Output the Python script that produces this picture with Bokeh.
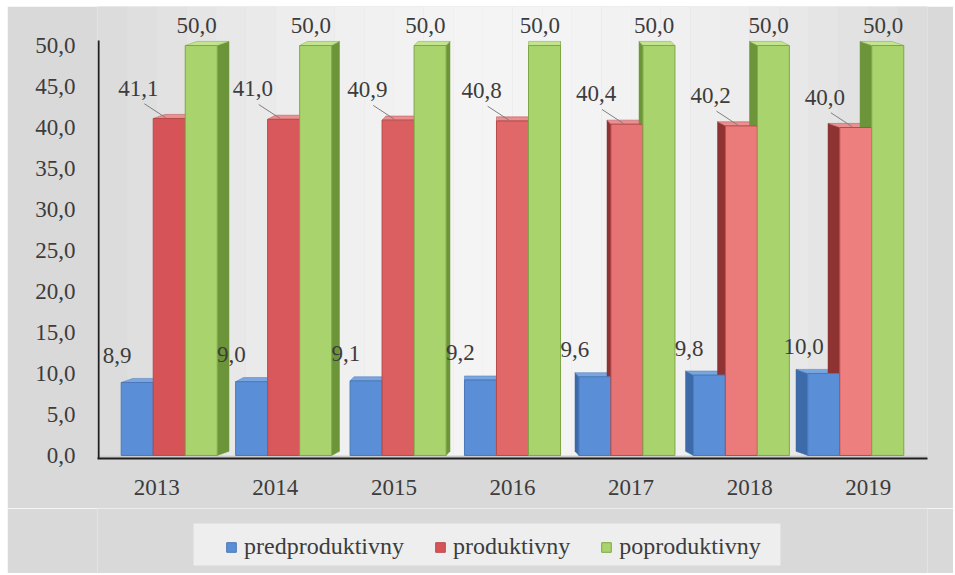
import numpy as np
from bokeh.plotting import figure
from bokeh.layouts import column
from bokeh.models import (Range1d, FixedTicker, Legend, LegendItem, BoxAnnotation,
                          ColumnDataSource, LabelSet, CustomJSTickFormatter)
from bokeh.embed import file_html
from bokeh.resources import INLINE

# ---------------- data ----------------
years = ["2013", "2014", "2015", "2016", "2017", "2018", "2019"]
predproduktivny = [8.9, 9.0, 9.1, 9.2, 9.6, 9.8, 10.0]
produktivny = [41.1, 41.0, 40.9, 40.8, 40.4, 40.2, 40.0]
poproduktivny = [50.0, 50.0, 50.0, 50.0, 50.0, 50.0, 50.0]
series_names = ["predproduktivny", "produktivny", "poproduktivny"]
y_ticks = [0, 5, 10, 15, 20, 25, 30, 35, 40, 45, 50]

# ---------------- style ----------------
FONT = "Liberation Serif"
TXT = "#3c3c3c"
FS = "23px"
BORDER = "#d9d9d9"
front_cols = [
    ["#5a8ed6"] * 7,
    ["#d65458", "#d8585b", "#db5e60", "#e06868", "#e77474", "#eb7a7a", "#ee7f7f"],
    ["#a9d36d"] * 7,
]
side_cols = ["#3d6aa8", "#8e3232", "#6c953a"]
top_cols = ["#7aa6e0", "#e99090", "#c3e48e"]
edge_cols = ["#4a78b8", "#b84a4a", "#7fa646"]
legend_cols = ["#5a8ed6", "#d65458", "#a9d36d"]

W = 946
ML, MR = 90, 26
Y0, Y1 = -0.37, 54.76
p = figure(width=W, height=502, x_range=Range1d(-0.5, 6.5), y_range=Range1d(Y0, Y1),
           output_backend="svg", toolbar_location=None,
           min_border_left=ML, min_border_right=MR, min_border_top=0, min_border_bottom=50)
p.background_fill_color = BORDER
p.border_fill_color = BORDER
p.outline_line_color = None
p.xgrid.visible = False
p.ygrid.visible = False

# soft horizontal gradient inside the plot area
n_strips = 28
for k in range(n_strips):
    a = -0.5 + 7.0 * k / n_strips
    b = -0.5 + 7.0 * (k + 1) / n_strips
    u = ((a + b) / 2 - 3.0) / 3.5
    g = int(round(218 + 26 * (1 - u * u)))
    p.add_layout(BoxAnnotation(left=a, right=b, fill_color=f"#{g:02x}{g:02x}{g:02x}",
                               fill_alpha=1.0, line_color=None, level="underlay"))

# floor
p.add_layout(BoxAnnotation(bottom=Y0, top=0, fill_color="#cdcdcd", fill_alpha=1.0,
                           line_color=None, level="underlay"))

idx = np.arange(len(years))
shift = 0.035 * (3 - idx)          # perspective shift toward the centre
depth = 0.033 * (3 - idx)          # visible depth of side faces
dy = 0.5
w = 0.27
offsets = [-w, 0.0, w]
all_vals = [predproduktivny, produktivny, poproduktivny]

# side and top faces first
for s, vals in enumerate(all_vals):
    xs_side, ys_side, xs_top, ys_top = [], [], [], []
    for i, v in enumerate(vals):
        c = i + shift[i] + offsets[s]
        x0, x1 = c - w / 2, c + w / 2
        d = depth[i]
        if d >= 0:
            xs_side.append([x1, x1, x1 + d, x1 + d])
        else:
            xs_side.append([x0, x0, x0 + d, x0 + d])
        ys_side.append([0, v, v + dy, dy])
        xs_top.append([x0, x1, x1 + d, x0 + d])
        ys_top.append([v, v, v + dy, v + dy])
    p.patches(xs_side, ys_side, fill_color=side_cols[s], line_color=side_cols[s], line_width=0.5)
    p.patches(xs_top, ys_top, fill_color=top_cols[s], line_color=edge_cols[s], line_width=0.5)

# front faces
for s, vals in enumerate(all_vals):
    src = ColumnDataSource(dict(x=idx + shift + offsets[s], top=vals, col=front_cols[s]))
    p.vbar(x="x", top="top", bottom=0, width=w, source=src, fill_color="col",
           line_color=edge_cols[s], line_width=1)

# leader lines for the middle series
lx0 = idx + shift - 0.21
ly0 = np.array(produktivny) + 1.8
lx1 = idx + shift - 0.03
ly1 = np.array(produktivny) + 0.1
p.segment(x0=lx0, y0=ly0, x1=lx1, y1=ly1, line_color="#7f7f7f", line_width=1)

def fmt(v):
    return f"{v:.1f}".replace(".", ",")

label_specs = [(-0.17, 3.3), (-0.26, 3.7), (-0.04, 2.5)]
for s, vals in enumerate(all_vals):
    ox, oy = label_specs[s]
    src = ColumnDataSource(dict(x=idx + shift + offsets[s] + ox,
                                y=np.array(vals) + oy,
                                t=[fmt(v) for v in vals]))
    p.add_layout(LabelSet(x="x", y="y", text="t", source=src, text_align="center",
                          text_baseline="middle", text_font=FONT, text_font_size=FS,
                          text_color=TXT))

# axes
p.yaxis.ticker = FixedTicker(ticks=y_ticks)
p.yaxis.formatter = CustomJSTickFormatter(code="return tick.toFixed(1).replace('.', ',');")
p.xaxis.ticker = FixedTicker(ticks=list(range(len(years))))
p.xaxis.formatter = CustomJSTickFormatter(args=dict(years=years),
                                          code="return years[Math.round(tick)] || '';")
for ax in (p.xaxis, p.yaxis):
    ax.axis_line_color = "#1f1f1f"
    ax.axis_line_width = 2
    ax.major_tick_line_color = None
    ax.minor_tick_line_color = None
    ax.major_label_text_font = FONT
    ax.major_label_text_font_size = FS
    ax.major_label_text_color = TXT
p.yaxis.axis_line_color = None
p.yaxis.major_label_standoff = 16
p.xaxis.major_label_standoff = 15
# vertical axis line only up to the top of the value scale
p.segment(x0=[-0.5 + 0.009], y0=[Y0], x1=[-0.5 + 0.009], y1=[50.6],
          line_color="#1f1f1f", line_width=2)

# ---------------- legend strip ----------------
QH = 65
q = figure(width=W, height=QH, x_range=Range1d(ML, W - MR), y_range=Range1d(0, QH),
           output_backend="svg", toolbar_location=None,
           min_border_left=ML, min_border_right=MR, min_border_top=0, min_border_bottom=0,
           x_axis_location=None, y_axis_location=None)
q.background_fill_color = BORDER
q.border_fill_color = BORDER
q.outline_line_color = None
q.xgrid.visible = False
q.ygrid.visible = False
q.add_layout(BoxAnnotation(left=186, right=773, bottom=8, top=50, fill_color="#eeeeee",
                           fill_alpha=1.0, line_color=None, level="underlay"))
items = []
for s in range(3):
    r = q.vbar(x=[ML], top=[0], width=0, fill_color=legend_cols[s], line_color=edge_cols[s])
    items.append(LegendItem(label=series_names[s], renderers=[r], index=0))
legend = Legend(items=items, orientation="horizontal", location=(218 - ML, 13),
                background_fill_alpha=0.0, border_line_color=None,
                label_text_font=FONT, label_text_font_size="24px", label_text_color=TXT,
                glyph_width=12, glyph_height=12, label_standoff=7, spacing=30,
                padding=0, margin=0, label_height=24)
q.add_layout(legend, "center")

layout = column(p, q, spacing=0, margin=(6, 0, 0, 7))
open("out.html", "w").write(file_html(layout, INLINE))
